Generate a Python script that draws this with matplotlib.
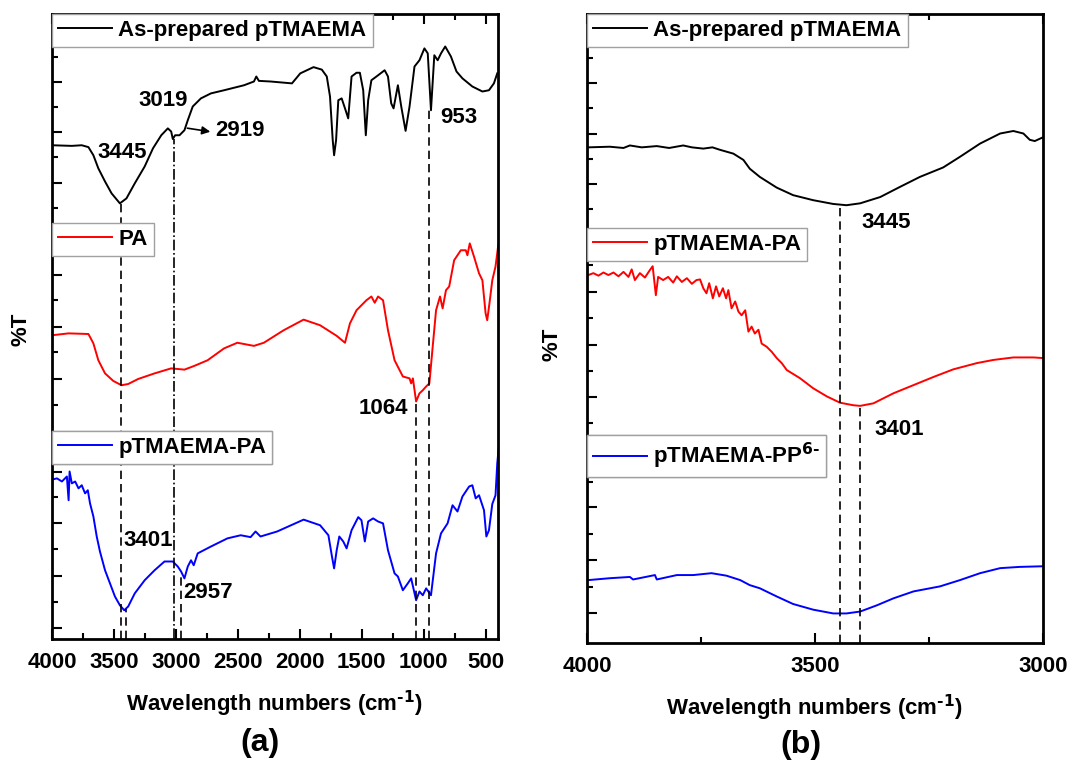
import numpy as np
import matplotlib
matplotlib.use("Agg")
from matplotlib import pyplot as plt
from matplotlib.ticker import MultipleLocator

plt.rcParams['font.family'] = ['Liberation Sans', 'DejaVu Sans']
plt.rcParams['font.weight'] = 'bold'
plt.rcParams['axes.labelweight'] = 'bold'

# ---- panel (a): full FTIR spectra (wavenumber, %T offset) ----
wn_black_a = [4000, 3840, 3760, 3706, 3666, 3626, 3572, 3519, 3452, 3399, 3332, 3252,
              3185, 3118, 3065, 3038, 3025, 3006, 2971, 2931, 2904, 2864, 2798, 2717,
              2611, 2450, 2370, 2351, 2330, 2236, 2063, 1996, 1889, 1822, 1782, 1756,
              1734, 1723, 1707, 1689, 1662, 1635, 1609, 1582, 1542, 1515, 1488, 1467,
              1448, 1422, 1381, 1315, 1288, 1262, 1243, 1208, 1181, 1146, 1114, 1074,
              1034, 994, 967, 941, 914, 887, 860, 826, 780, 735, 687, 607, 526, 473, 433, 406]
t_black_a = [79.0, 78.9, 79.0, 78.7, 77.4, 75.3, 73.2, 71.3, 69.7, 70.5, 72.9, 75.6,
             78.5, 80.6, 81.7, 81.2, 80.0, 80.6, 80.6, 81.4, 83.0, 85.2, 86.5, 87.3,
             87.8, 88.6, 89.2, 90.0, 89.3, 89.2, 88.9, 90.5, 91.5, 91.1, 90.0, 86.8,
             79.8, 77.4, 79.8, 86.2, 86.5, 84.9, 83.3, 90.0, 90.6, 90.6, 87.8, 80.6,
             86.2, 89.4, 90.0, 91.0, 90.0, 85.7, 84.9, 88.6, 85.2, 81.3, 85.2, 91.6,
             92.6, 94.5, 93.7, 84.6, 93.4, 92.6, 93.7, 94.8, 93.2, 90.8, 89.7, 88.4, 87.6, 87.8, 88.9, 90.5]

wn_red_a = [4000, 3866, 3706, 3666, 3626, 3572, 3506, 3439, 3385, 3305, 3172, 3038,
            2931, 2851, 2744, 2611, 2504, 2370, 2290, 2130, 1969, 1836, 1702, 1635,
            1595, 1542, 1462, 1422, 1395, 1368, 1328, 1288, 1235, 1168, 1114, 1101,
            1087, 1061, 1034, 1007, 980, 954, 927, 900, 868, 847, 820, 794, 754, 700,
            660, 647, 628, 594, 553, 526, 500, 487, 469, 446, 420, 398]
t_red_a = [48.6, 48.9, 48.8, 47.3, 44.6, 42.5, 41.3, 40.6, 40.8, 41.6, 42.5, 43.3,
           43.1, 43.7, 44.6, 46.5, 47.4, 46.9, 47.4, 49.4, 51.1, 50.2, 48.5, 47.4,
           50.5, 52.6, 54.2, 54.8, 53.8, 54.8, 54.2, 49.4, 44.6, 42.0, 41.7, 40.9,
           41.7, 38.0, 39.3, 39.8, 40.4, 40.9, 46.8, 52.6, 54.8, 52.9, 55.8, 56.4, 60.6, 62.2,
           62.2, 61.4, 63.3, 61.2, 58.5, 57.4, 52.1, 51.0, 53.7, 57.4, 59.6, 63.0]

wn_blue_a = [4000, 3960, 3920, 3880, 3866, 3858, 3840, 3813, 3786, 3760, 3733, 3711,
             3693, 3666, 3639, 3613, 3572, 3532, 3492, 3452, 3417, 3385, 3332, 3252,
             3172, 3092, 3025, 2985, 2958, 2931, 2904, 2878, 2856, 2824, 2717, 2584,
             2477, 2397, 2357, 2317, 2183, 1969, 1836, 1769, 1742, 1723, 1702, 1681,
             1649, 1622, 1582, 1528, 1502, 1475, 1448, 1408, 1368, 1328, 1288, 1235,
             1208, 1168, 1128, 1101, 1061, 1034, 1007, 980, 941, 900, 860, 807, 767,
             727, 687, 633, 607, 580, 553, 513, 494, 473, 446, 420, 406, 393]
t_blue_a = [25.5, 25.7, 25.2, 26.0, 22.2, 26.8, 24.9, 25.2, 24.1, 24.6, 23.3, 23.8,
            21.7, 19.6, 16.4, 14.0, 11.0, 8.9, 6.8, 5.4, 4.6, 5.2, 7.3, 9.4,
            11.0, 12.4, 12.4, 11.6, 10.8, 9.7, 11.6, 12.6, 11.8, 13.7, 14.8, 16.1,
            16.6, 16.3, 17.2, 16.4, 17.2, 19.1, 18.2, 16.6, 13.4, 11.3, 14.2, 16.4,
            15.6, 14.5, 17.4, 19.5, 19.0, 15.6, 18.8, 19.3, 18.8, 18.5, 14.2, 10.5,
            10.0, 7.8, 8.9, 9.7, 6.2, 7.6, 7.0, 8.1, 7.0, 13.7, 16.9, 18.5, 21.4,
            20.4, 22.8, 24.4, 24.6, 22.5, 23.0, 20.6, 16.4, 17.4, 21.6, 23.0, 28.1, 30.8]

# peak marker lines (a): wavenumber, top of the line
peaks_a = [3445, 3401, 953, 1064, 2957]
peaks_a_top = [69.7, 4.8, 84.6, 38.0, 10.5]
peak_3019 = 3019
peak_3019_top = 80.0

# ---- panel (b): 4000-3000 region ----
wn_black_b = [3997, 3950, 3920, 3906, 3880, 3847, 3820, 3789, 3770, 3745, 3725, 3708,
              3679, 3657, 3643, 3621, 3584, 3548, 3504, 3460, 3431, 3401, 3357, 3314,
              3270, 3219, 3182, 3138, 3094, 3065, 3043, 3029, 3018, 3000]
t_black_b = [78.8, 78.9, 78.7, 79.1, 78.8, 79.0, 78.7, 79.1, 78.8, 78.6, 78.8, 78.4,
             77.8, 76.8, 75.4, 74.1, 72.4, 71.2, 70.4, 69.8, 69.6, 69.9, 70.9, 72.5,
             74.1, 75.6, 77.3, 79.4, 81.0, 81.4, 81.0, 80.0, 79.8, 80.4]

wn_red_b = [3997, 3986, 3975, 3964, 3953, 3942, 3931, 3920, 3909, 3902, 3895, 3884,
            3873, 3862, 3856, 3849, 3844, 3833, 3822, 3811, 3803, 3792, 3781, 3770,
            3760, 3752, 3745, 3738, 3732, 3724, 3717, 3710, 3702, 3695, 3690, 3683,
            3675, 3668, 3661, 3653, 3646, 3639, 3632, 3624, 3617, 3606, 3595, 3584,
            3573, 3562, 3533, 3504, 3474, 3445, 3416, 3401, 3372, 3328, 3284, 3240,
            3197, 3145, 3109, 3065, 3021, 3000]
t_red_b = [58.5, 58.8, 58.4, 58.9, 58.5, 58.9, 58.3, 59.0, 58.2, 59.4, 57.7, 58.8,
           58.1, 59.3, 59.9, 55.3, 58.2, 57.7, 58.2, 57.3, 58.3, 57.4, 58.0, 57.1,
           57.7, 57.8, 56.4, 55.6, 57.2, 54.8, 56.7, 55.1, 56.4, 54.8, 56.1, 53.2,
           54.3, 52.7, 52.1, 52.9, 49.5, 50.3, 49.2, 49.8, 47.6, 47.1, 46.3, 45.3,
           44.5, 43.4, 42.1, 40.5, 39.2, 38.2, 37.8, 37.7, 38.1, 39.7, 41.0, 42.3,
           43.5, 44.5, 45.0, 45.4, 45.4, 45.3]

wn_blue_b = [3997, 3950, 3906, 3899, 3851, 3847, 3803, 3767, 3727, 3694, 3664, 3643,
             3621, 3584, 3548, 3504, 3460, 3431, 3401, 3364, 3328, 3284, 3226, 3182,
             3138, 3094, 3051, 3000]
t_blue_b = [10.0, 10.3, 10.5, 10.1, 10.8, 10.1, 10.8, 10.8, 11.1, 10.7, 10.0, 9.2,
            8.7, 7.4, 6.2, 5.3, 4.7, 4.7, 5.0, 6.0, 7.1, 8.2, 9.0, 10.0,
            11.1, 11.9, 12.1, 12.2]

peaks_b = [3445, 3401]
peaks_b_top = [69.6, 37.7]

labels = ['As-prepared pTMAEMA', 'PA', 'pTMAEMA-PA']
labels_b = ['As-prepared pTMAEMA', 'pTMAEMA-PA', r'pTMAEMA-PP$^{\mathbf{6\text{-}}}$']
colors = ['black', 'red', 'blue']

# y ticks of the three stacked layers (same %T scale as data)
ymaj_a = [89.1, 81.1, 73.0, 58.2, 49.9, 41.6, 26.7, 18.6, 10.1, 1.8]
ymin_a = [93.1, 85.1, 77.1, 69.0, 62.4, 54.2, 45.9, 37.4, 22.7, 14.4, 5.9]
ymaj_b = [89.0, 80.9, 73.0, 55.8, 47.4, 39.1, 21.6, 13.2, 4.8]
ymin_b = [93.0, 85.1, 76.9, 69.0, 60.1, 51.7, 43.2, 35.0, 25.6, 17.3, 8.9]

FS = 16
fig = plt.figure(figsize=(10.72, 7.6), dpi=100)
ax_a = fig.add_axes([52/1072, 1-639/760, 446/1072, 625/760])
ax_b = fig.add_axes([587/1072, 1-643/760, 456/1072, 629/760])


def style_axis(ax, xmin, xmax, ymaj, ymin):
    ax.set_xlim(xmin, xmax)
    ax.set_ylim(0, 100)
    ax.xaxis.set_major_locator(MultipleLocator(500))
    ax.xaxis.set_minor_locator(MultipleLocator(250))
    ax.set_yticks(ymaj)
    ax.set_yticks(ymin, minor=True)
    ax.set_yticklabels([])
    ax.tick_params(which='both', direction='in', top=True, right=False,
                   width=1.5, labelsize=FS, pad=9)
    ax.tick_params(which='major', length=7)
    ax.tick_params(which='minor', length=4)
    for s in ax.spines.values():
        s.set_linewidth(2)
    for t in ax.get_xticklabels():
        t.set_fontweight('bold')
    ax.set_xlabel(r'Wavelength numbers (cm$^{\mathbf{\text{-}1}}$)', fontsize=FS, labelpad=12)
    ax.set_ylabel('%T', fontsize=FS)


def add_legends(ax, lines, labs, tops):
    for ln, lab, top in zip(lines, labs, tops):
        leg = ax.legend([ln], [lab], loc='upper left', bbox_to_anchor=(0, top),
                        borderaxespad=0, fancybox=False, framealpha=1,
                        edgecolor='#a0a0a0', handlelength=2.4,
                        handletextpad=0.3, borderpad=0.28,
                        prop={'weight': 'bold', 'size': FS})
        leg.get_frame().set_linewidth(1)
        ax.add_artist(leg)


dash = (0, (5, 3))

# panel (a)
la = []
for wn, t, c in zip([wn_black_a, wn_red_a, wn_blue_a], [t_black_a, t_red_a, t_blue_a], colors):
    ln, = ax_a.plot(wn, t, color=c, lw=1.4)
    la.append(ln)
ax_a.vlines(peaks_a, 0, peaks_a_top, colors='k', linestyles=dash, lw=1.2)
ax_a.vlines(peak_3019, 0, peak_3019_top, colors='k', linestyles='dashdot', lw=1.2)
ax_a.annotate('', xy=(2700, 81.1), xytext=(2930, 81.8),
              arrowprops=dict(arrowstyle='-|>', color='k', lw=1.2, mutation_scale=12))
ax_a.text(3435, 77.9, '3445', ha='center', va='center', fontsize=FS)
ax_a.text(3104, 86.2, '3019', ha='center', va='center', fontsize=FS)
ax_a.text(2684, 81.3, '2919', ha='left', va='center', fontsize=FS)
ax_a.text(715, 83.4, '953', ha='center', va='center', fontsize=FS)
ax_a.text(1329, 36.8, '1064', ha='center', va='center', fontsize=FS)
ax_a.text(3427, 15.7, '3401', ha='left', va='center', fontsize=FS)
ax_a.text(2943, 7.4, '2957', ha='left', va='center', fontsize=FS)
style_axis(ax_a, 4000, 400, ymaj_a, ymin_a)
add_legends(ax_a, la, labels, [1.0, 0.666, 0.333])

# panel (b)
lb = []
for wn, t, c in zip([wn_black_b, wn_red_b, wn_blue_b], [t_black_b, t_red_b, t_blue_b], colors):
    ln, = ax_b.plot(wn, t, color=c, lw=1.4)
    lb.append(ln)
ax_b.vlines(peaks_b, 0, peaks_b_top, colors='k', linestyles=dash, lw=1.2)
ax_b.text(3344, 66.9, '3445', ha='center', va='center', fontsize=FS)
ax_b.text(3316, 34.0, '3401', ha='center', va='center', fontsize=FS)
style_axis(ax_b, 4000, 3000, ymaj_b, ymin_b)
add_legends(ax_b, lb, labels_b, [1.0, 0.660, 0.331])

ax_a.yaxis.set_label_coords(-0.045, 0.495)
ax_b.yaxis.set_label_coords(-0.053, 0.475)

fig.text(260/1072, 1-743/760, '(a)', ha='center', va='center', fontsize=23)
fig.text(801/1072, 1-745/760, '(b)', ha='center', va='center', fontsize=23)

fig.savefig('out.png', dpi=100)
